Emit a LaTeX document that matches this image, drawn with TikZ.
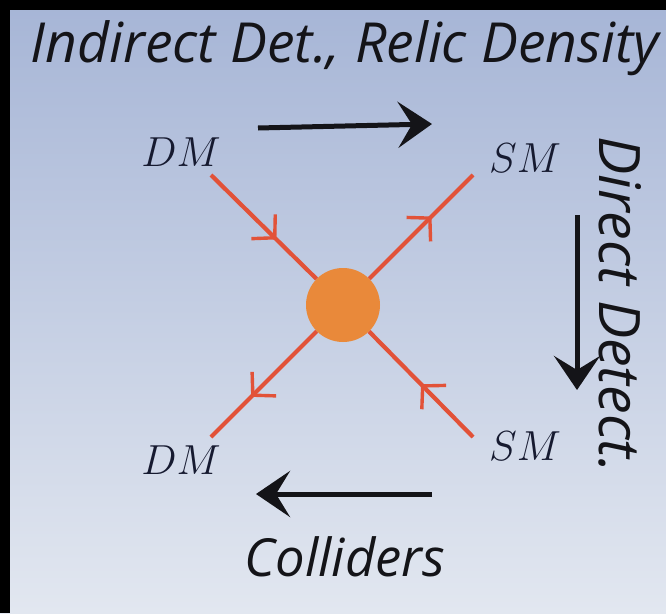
\RequirePackage{fix-cm}
\documentclass[tikz,border=0pt]{standalone}
\usepackage{fontspec}
\usepackage{graphicx}
\newfontfamily\hand{Open Sans}
\usetikzlibrary{arrows.meta,decorations.markings}
\definecolor{bgtop}{RGB}{166,181,214}
\definecolor{bgbot}{RGB}{226,231,240}
\definecolor{leg}{RGB}{226,82,56}
\definecolor{blob}{RGB}{233,137,58}
\definecolor{ink}{RGB}{20,20,24}
\definecolor{navy}{RGB}{22,26,48}
\begin{document}
\begin{tikzpicture}[x=1pt,y=-1pt,
  lbl/.style={font=\fontsize{42}{42}\selectfont, text=navy, inner sep=0pt},
  handtext/.style={font=\hand\itshape\fontsize{40}{40}\selectfont, text=ink, inner sep=0pt},
  leg/.style={draw=leg, line width=4.2pt},
  midarrow/.style={postaction={decorate},
    decoration={markings, mark=at position #1 with {\arrow[leg, line width=3.4pt]{Straight Barb[length=16pt,width=34pt]}}}},
  bigarrow/.style={draw=ink, line width=5pt, -{Stealth[length=34pt,width=46pt,inset=14pt]}}
]
\useasboundingbox (0,0) rectangle (666,613);
\shade[top color=bgtop, bottom color=bgbot] (0,0) rectangle (666,613);
\fill[black] (0,0) rectangle (666,10);
\fill[black] (0,0) rectangle (10,613);

% labels
\node[lbl] (dm1) at (181,152) {$DM$};
\node[lbl] (sm1) at (525,158) {$SM$};
\node[lbl] (dm2) at (181,460) {$DM$};
\node[lbl] (sm2) at (525,446) {$SM$};

% vertex
\node[circle, fill=blob, minimum size=74pt, inner sep=0pt] (c) at (343,305) {};
\coordinate (a1) at (211,175);
\coordinate (a2) at (473,175);
\coordinate (a3) at (211,437);
\coordinate (a4) at (473,437);
\draw[leg, midarrow=0.62] (a1) -- (c);
\draw[leg, midarrow=0.6] (c) -- (a2);
\draw[leg, midarrow=0.62] (c) -- (a3);
\draw[leg, midarrow=0.5] (a4) -- (c);

% hand-drawn arrows
\coordinate (t1) at (258,128);
\coordinate (t2) at (432,124);
\draw[bigarrow] (t1) -- (t2);
\coordinate (r1) at (577,215);
\coordinate (r2) at (577,390);
\draw[bigarrow] (r1) -- (r2);
\coordinate (b1) at (432,494);
\coordinate (b2) at (256,494);
\draw[bigarrow] (b1) -- (b2);

% texts
\node[handtext] (title) at (345,48) {\resizebox{628pt}{!}{Indirect Det., Relic Density}};
\node[handtext, rotate=-90] (dd) at (620,305) {\resizebox{!}{42pt}{Direct Detect.}};
\node[handtext] (col) at (345,557) {\resizebox{200pt}{!}{Colliders}};
\end{tikzpicture}
\end{document}
